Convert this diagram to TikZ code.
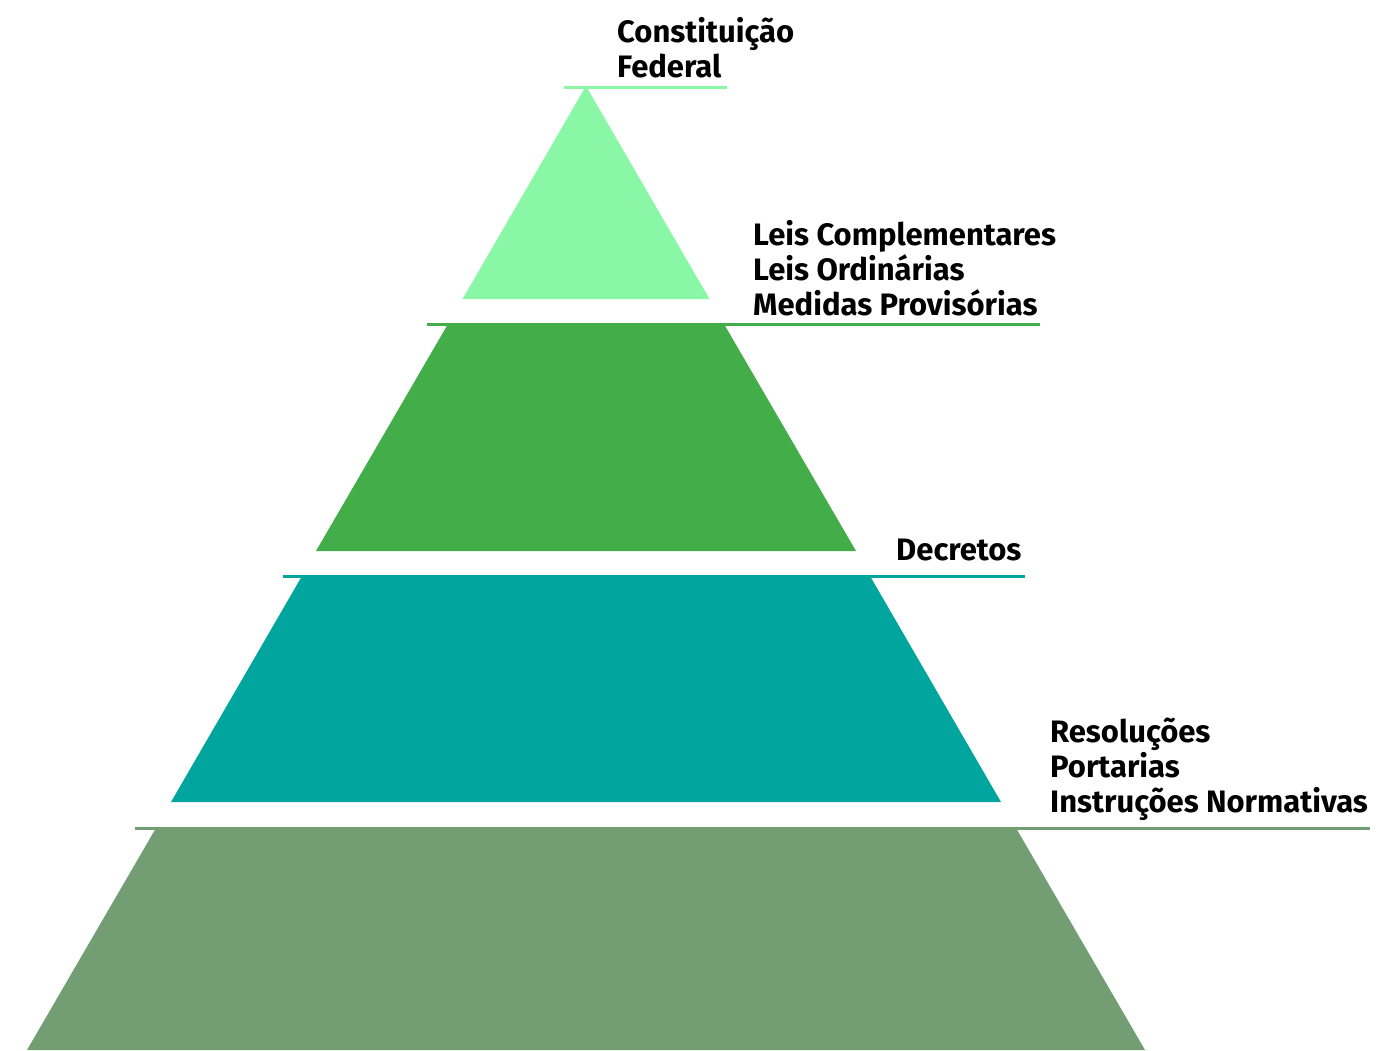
\documentclass[tikz,border=0pt]{standalone}
\usepackage{fontspec}
\setmainfont{Fira Sans}
\definecolor{cA}{HTML}{8AF7A6}
\definecolor{cB}{HTML}{43AD4A}
\definecolor{cC}{HTML}{00A59E}
\definecolor{cD}{HTML}{739E74}
\begin{document}
\begin{tikzpicture}[x=1pt,y=-1pt,
  lbl/.style={anchor=base west,inner sep=0pt,align=left,font=\bfseries\fontsize{31}{35}\selectfont},
  rule/.style={line width=3pt}]
\useasboundingbox (0,0) rectangle (1376,1050);
% pyramid levels
\fill[cA] (586,86) -- (709.5,299) -- (462.5,299) -- cycle;
\fill[cB] (448,324) -- (724,324) -- (856,551) -- (316,551) -- cycle;
\fill[cC] (302,576) -- (870,576) -- (1001,802) -- (171,802) -- cycle;
\fill[cD] (156,828) -- (1016,828) -- (1145,1050) -- (27,1050) -- cycle;
% rules
\draw[rule,cA] (564,87) -- (727,87);
\draw[rule,cB] (427,324) -- (1040,324);
\draw[rule,cC] (283,576) -- (1025,576);
\draw[rule,cD] (135,828) -- (1370,828);
% labels
\node[lbl] (cf) at (617,77) {Constituição\\Federal};
\node[lbl] (leis) at (753,315) {Leis Complementares\\Leis Ordinárias\\Medidas Provisórias};
\node[lbl] (dec) at (896,560) {Decretos};
\node[lbl] (res) at (1050,812) {Resoluções\\Portarias\\Instruções Normativas};
\end{tikzpicture}
\end{document}
